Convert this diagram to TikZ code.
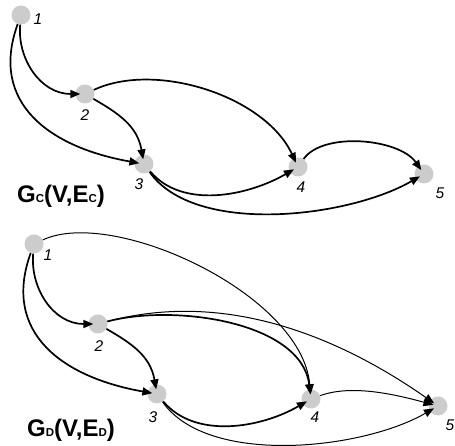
\documentclass[tikz,border=0pt]{standalone}
\usepackage{fontspec}
\setmainfont{Liberation Sans}
\usetikzlibrary{arrows.meta}
\definecolor{VxGray}{HTML}{CCCCCC}
\tikzset{
  vertex/.style={circle,fill=VxGray,minimum size=19pt,inner sep=0pt},
  num/.style={font=\fontsize{15.5}{15.5}\selectfont\itshape,inner sep=0pt},
  arc/.style={line width=1.7pt,-{Triangle[length=10pt,width=8pt]},shorten >=-5pt},
  thinarc/.style={arc,line width=1pt},
  title/.style={font=\fontsize{24}{24}\selectfont\bfseries,anchor=base west,inner sep=0pt}
}
\newcommand{\sbs}[1]{{\fontsize{11.5}{11.5}\selectfont #1}}

\begin{document}
\begin{tikzpicture}[x=1pt,y=1pt]
\path[use as bounding box] (0,0) rectangle (455,446);
% G_C
\node[vertex] (c1) at (21,431) {};
\node[vertex] (c2) at (85,352) {};
\node[vertex] (c3) at (144,282) {};
\node[vertex] (c4) at (298,279) {};
\node[vertex] (c5) at (424,272) {};
\node[num] (c1l) at (38,427) {1};
\node[num] (c2l) at (85,331) {2};
\node[num] (c3l) at (139,262) {3};
\node[num] (c4l) at (301,259) {4};
\node[num] (c5l) at (440,253) {5};
\draw[arc] (c1) to[out=-95,in=180] (c2);
\draw[arc] (c1) to[out=-110,in=170,looseness=1.2] (c3);
\draw[arc] (c2) to[out=-30,in=100] (c3);
\draw[arc] (c2) to[out=25,in=115,looseness=0.83] (c4);
\draw[arc] (c3) to[out=-50,in=-150,looseness=0.9] (c4);
\draw[arc] (c3) to[out=-55,in=-150,looseness=0.75] (c5);
\draw[arc] (c4) to[out=55,in=125,looseness=0.75] (c5);
\node[title] (gc) at (17,243.3) {G\sbs{C}(V,E\sbs{C})};
% G_D
\node[vertex] (d1) at (34,202) {};
\node[vertex] (d2) at (98,122) {};
\node[vertex] (d3) at (157,52) {};
\node[vertex] (d4) at (311,47) {};
\node[vertex] (d5) at (438,40) {};
\node[num] (d1l) at (48,191) {1};
\node[num] (d2l) at (99,100) {2};
\node[num] (d3l) at (153,29) {3};
\node[num] (d4l) at (315,29) {4};
\node[num] (d5l) at (450,21) {5};
\draw[arc] (d1) to[out=-95,in=180] (d2);
\draw[arc] (d1) to[out=-110,in=170,looseness=1.2] (d3);
\draw[arc] (d2) to[out=-30,in=100] (d3);
\draw[thinarc] (d1) to[out=25,in=95,out looseness=0.65,in looseness=0.8] (d4);
\draw[arc] (d2) to[out=15,in=97,looseness=0.82] (d4);
\draw[thinarc] (d2) to[out=15,in=145,out looseness=1.0,in looseness=0.76] (d5);
\draw[arc] (d3) to[out=-50,in=-150,looseness=0.9] (d4);
\draw[thinarc] (d3) to[out=-55,in=-150,looseness=0.75] (d5);
\draw[thinarc] (d4) to[out=20,in=165,looseness=0.8] (d5);
\node[title] (gd) at (27,9.3) {G\sbs{D}(V,E\sbs{D})};
\end{tikzpicture}
\end{document}
